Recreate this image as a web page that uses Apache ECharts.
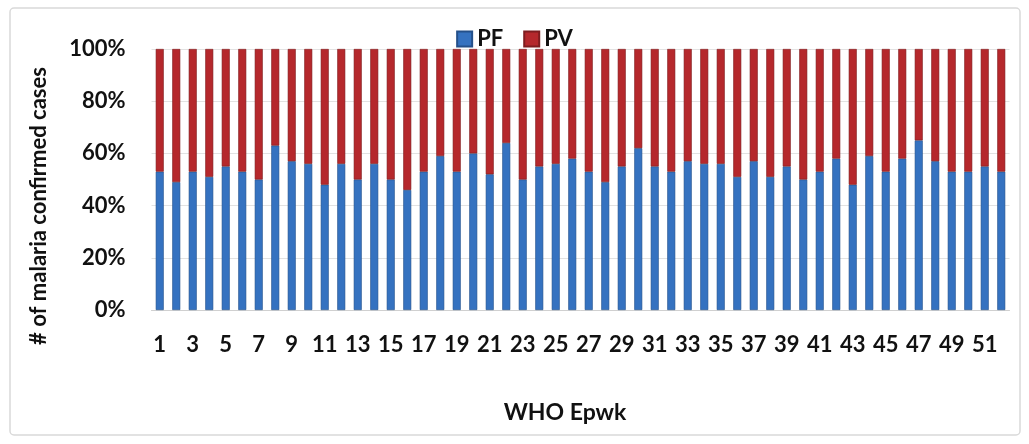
<!DOCTYPE html>
<html>
<head>
<meta charset="utf-8">
<script src="https://cdn.jsdelivr.net/npm/echarts@6/dist/echarts.min.js"></script>
<style>html,body{margin:0;padding:0;background:#fff}#c{width:1029px;height:444px}</style>
</head>
<body>
<div id="c"></div>
<script>
const weeks = Array.from({length: 52}, (_, i) => String(i + 1));
const pf = [53, 49, 53, 51, 55, 53, 50, 63, 57, 56, 48, 56, 50, 56, 50, 46, 53, 59, 53, 60,
            52, 64, 50, 55, 56, 58, 53, 49, 55, 62, 55, 53, 57, 56, 56, 51, 57, 51, 55, 50,
            53, 58, 48, 59, 53, 58, 65, 57, 53, 53, 55, 53];
const pv = pf.map(v => 100 - v);
const yTicks = ['0%', '20%', '40%', '60%', '80%', '100%'];
const yTitle = '# of malaria confirmed cases';
const xTitle = 'WHO Epwk';

const chart = echarts.init(document.getElementById('c'), null, {renderer: 'canvas'});
const font = 'Lato';
chart.setOption({
  backgroundColor: '#fff',
  animation: false,
  graphic: [{
    type: 'rect', shape: {x: 10, y: 8, width: 1010, height: 427, r: 4},
    style: {fill: 'none', stroke: '#d9d9d9', lineWidth: 1.5}, z: -1
  }, {
    type: 'text', x: 38.5, y: 206, rotation: Math.PI / 2,
    style: {text: yTitle, fontFamily: font, fontWeight: 'bold', fontSize: 22, fill: '#111',
      textAlign: 'center', textVerticalAlign: 'middle'}
  }, {
    type: 'text', x: 565, y: 413,
    style: {text: xTitle, fontFamily: font, fontWeight: 'bold', fontSize: 23, fill: '#111',
      textAlign: 'center', textVerticalAlign: 'middle'}
  }],
  legend: {
    top: 23, left: 'center', itemWidth: 15, itemHeight: 15, itemGap: 20,
    textStyle: {fontFamily: font, fontWeight: 'bold', fontSize: 22, color: '#111'},
    data: [{name: 'PF', icon: 'rect'}, {name: 'PV', icon: 'rect'}]
  },
  grid: {left: 151.5, right: 19.5, top: 49, bottom: 134, containLabel: false},
  xAxis: {
    type: 'category', data: weeks,
    axisLine: {show: true, lineStyle: {color: '#d0d0d0'}},
    axisTick: {show: false},
    axisLabel: {interval: 1, margin: 24, fontFamily: font, fontWeight: 'bold', fontSize: 22, color: '#111'}
  },
  yAxis: {
    type: 'value', min: 0, max: 100, interval: 20,
    axisLine: {show: false}, axisTick: {show: false},
    axisLabel: {margin: 26, fontFamily: font, fontWeight: 'bold', fontSize: 22, color: '#111',
      formatter: v => yTicks[Math.round(v / 20)]},
    splitLine: {lineStyle: {color: '#e2e2e2'}}
  },
  series: [
    {name: 'PF', type: 'bar', stack: 't', data: pf, barWidth: 8,
     itemStyle: {color: '#3572C0', borderColor: '#24508a', borderWidth: 0.6}},
    {name: 'PV', type: 'bar', stack: 't', data: pv, barWidth: 8,
     itemStyle: {color: '#B5282C', borderColor: '#7e1c1f', borderWidth: 0.6}}
  ]
});
</script>
</body>
</html>
